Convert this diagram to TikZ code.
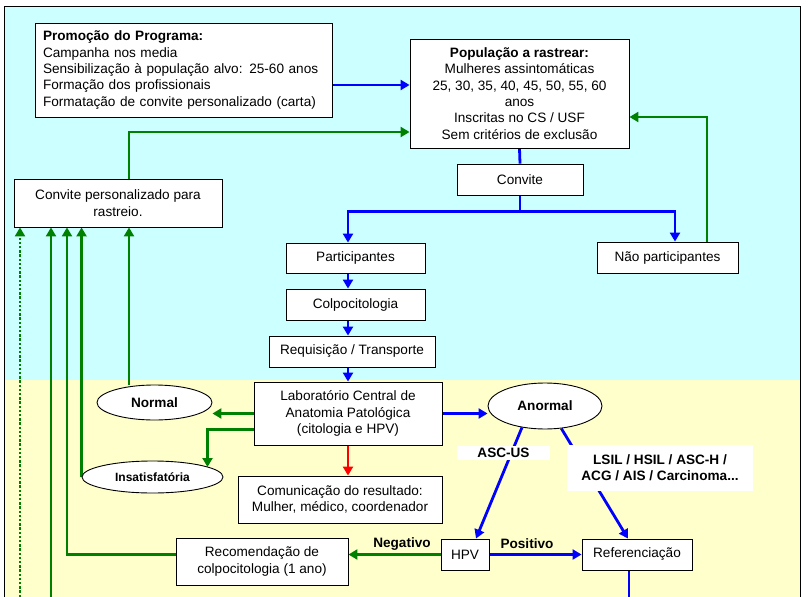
\documentclass[tikz,border=0pt]{standalone}
\usepackage{fontspec}
\setmainfont{Liberation Sans}
\usetikzlibrary{arrows.meta,shapes.geometric}
\definecolor{bgcyan}{RGB}{204,255,255}
\definecolor{bgyellow}{RGB}{255,255,204}
\definecolor{cblue}{RGB}{0,0,255}
\definecolor{cgreen}{RGB}{0,128,0}
\definecolor{cred}{RGB}{255,0,0}
\pgfdeclarelayer{bglayer}
\pgfdeclarelayer{edgelayer}
\pgfsetlayers{bglayer,edgelayer,main}
\tikzset{
  box/.style={draw=black, line width=0.9pt, fill=white, rectangle, inner sep=2pt, align=center,
    font=\fontsize{13.6pt}{16.3pt}\selectfont},
  oval/.style={draw=black, line width=0.9pt, fill=white, ellipse, inner sep=0pt,
    font=\fontsize{13.6pt}{16.3pt}\selectfont\bfseries},
  lbl/.style={fill=white, inner sep=0pt, align=center, font=\fontsize{13.6pt}{16.3pt}\selectfont\bfseries},
  tip/.style={-{Triangle[length=9pt,width=10pt]}},
  bl/.style={draw=cblue, line width=2.8pt, tip},
  blline/.style={draw=cblue, line width=2.8pt},
  gr/.style={draw=cgreen, line width=2.8pt, tip},
  grdot/.style={draw=cgreen, line width=2.8pt, tip, dash pattern=on 2.4pt off 1.8pt},
  rd/.style={draw=cred, line width=2.8pt, tip},
}
\begin{document}
\begin{tikzpicture}[x=1pt,y=-1pt]
\useasboundingbox (0,0) rectangle (809,597);
\begin{pgfonlayer}{bglayer}
  \fill[white] (0,0) rectangle (809,597);
  \fill[bgcyan] (4,6) rectangle (800,380);
  \fill[bgyellow] (4,380) rectangle (800,597);
  \draw[black, line width=1pt] (4,597) -- (4,6) -- (800,6) -- (800,597);
\end{pgfonlayer}

% nodes
\node[box, minimum width=297pt, minimum height=94pt, text width=281pt, align=left, inner xsep=8pt] (Promo) at (183.5,70)
  {\textbf{Promoção do Programa:}\\Campanha nos media\\Sensibilização à população alvo: 25-60 anos\\Formação dos profissionais\\Formatação de convite personalizado (carta)};
\node[box, minimum width=219pt, minimum height=109pt] (Pop) at (519.5,93.5)
  {\textbf{População a rastrear:}\\Mulheres assintomáticas\\25, 30, 35, 40, 45, 50, 55, 60\\anos\\Inscritas no CS / USF\\Sem critérios de exclusão};
\node[box, minimum width=126pt, minimum height=31pt] (CV) at (520,179.5) {Convite};
\node[box, minimum width=208pt, minimum height=48pt] (CP) at (118,203) {Convite personalizado para\\rastreio.};
\node[box, minimum width=139pt, minimum height=30pt] (Part) at (355.5,258) {Participantes};
\node[box, minimum width=139pt, minimum height=31pt] (Colpo) at (355.5,304.5) {Colpocitologia};
\node[box, minimum width=166pt, minimum height=31pt] (Req) at (352,351.5) {Requisição / Transporte};
\node[box, minimum width=188pt, minimum height=63pt] (Lab) at (348,413.5) {Laboratório Central de\\Anatomia Patológica\\(citologia e HPV)};
\node[box, minimum width=141pt, minimum height=31pt] (NP) at (667.5,257.5) {Não participantes};
\node[oval, minimum width=115pt, minimum height=35pt] (Normal) at (154.5,402.5) {Normal};
\node[oval, minimum width=141pt, minimum height=32pt, font=\fontsize{12pt}{14pt}\selectfont\bfseries] (Insat) at (152.5,477) {Insatisfatória};
\node[box, minimum width=204pt, minimum height=47pt] (Com) at (340,499.5) {Comunicação do resultado:\\Mulher, médico, coordenador};
\node[box, minimum width=172pt, minimum height=47pt] (Rec) at (262,561.5) {Recomendação de\\colpocitologia (1 ano)};
\node[oval, minimum width=114pt, minimum height=46pt] (Anormal) at (545,406) {Anormal};
\node[box, minimum width=48pt, minimum height=31pt] (HPV) at (465,554.5) {HPV};
\node[box, minimum width=110pt, minimum height=31pt] (Ref) at (637,554.5) {Referenciação};

\coordinate (inA) at (51,597);
\coordinate (inB) at (20,597);
\coordinate (outR) at (629,597);

\begin{pgfonlayer}{edgelayer}
  \draw[bl] ([yshift=-15pt]Promo.east) -- ([yshift=8.5pt]Pop.west);
  \draw[gr] ([xshift=11pt]CP.north) |- ([yshift=-38.5pt]Pop.west);
  \draw[gr] ([xshift=39.5pt]NP.north) |- ([yshift=-23.5pt]Pop.east);
  \draw[blline] (Pop.south) -- (CV.north);
  \draw[blline] (CV.south) -- ++(0,16) coordinate (J);
  \draw[bl] (J) -| (Lab.center |- Part.north);
  \draw[bl] (J) -| ([xshift=7.5pt]NP.north);
  \draw[bl] (Lab.center |- Part.south) -- (Lab.center |- Colpo.north);
  \draw[bl] (Lab.center |- Colpo.south) -- (Lab.center |- Req.north);
  \draw[bl] (Lab.center |- Req.south) -- (Lab.north);
  \draw[gr] (Lab.west) -- (Lab.west -| Normal.east);
  \draw[gr] ([yshift=-16pt]Lab.west) -| ([xshift=55pt,yshift=10pt]Insat.center);
  \draw[rd] (Lab.south) -- (Lab.south |- Com.north);
  \draw[bl] (Lab.east) -- (Lab.east -| Anormal.west);
  \draw[gr] ([xshift=11pt]CP.south |- Normal.north) -- ([xshift=11pt]CP.south);
  \draw[gr] (Insat.west) -- (Insat.west |- CP.south);
  \draw[gr] (HPV.west) -- (HPV.west -| Rec.east);
  \draw[gr] (HPV.west -| Rec.west) -| ([xshift=-51pt]CP.south);
  \draw[gr] (inA) -- (inA |- CP.south);
  \draw[grdot] (inB) -- (inB |- CP.south);
  \draw[bl] (Anormal.223) -- ([xshift=11pt]HPV.north);
  \draw[bl] (Anormal.306) -- ([xshift=-9pt]Ref.north);
  \draw[bl] (HPV.east) -- (Ref.west);
  \draw[blline] (Ref.south -| outR) -- (outR);
\end{pgfonlayer}

% labels
\node[lbl, minimum width=93pt, minimum height=14pt] (lAsc) at (503.5,453) {ASC-US};
\node[lbl, minimum width=186pt, minimum height=46pt] (lLsil) at (660,468) {LSIL / HSIL / ASC-H /\\ACG / AIS / Carcinoma...};
\node[font=\fontsize{13.6pt}{16pt}\selectfont\bfseries, inner sep=0pt] (lNeg) at (402,544) {Negativo};
\node[font=\fontsize{13.6pt}{16pt}\selectfont\bfseries, inner sep=0pt] (lPos) at (527,544) {Positivo};
\end{tikzpicture}
\end{document}
